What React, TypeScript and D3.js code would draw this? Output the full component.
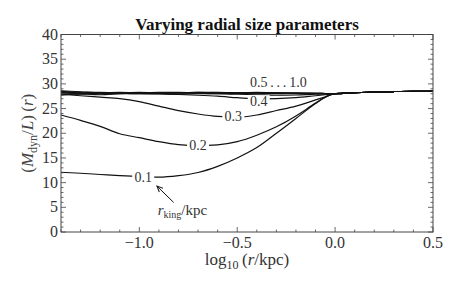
import React, { useRef, useEffect } from 'react';
import * as d3 from 'd3';

// log10(r/kpc) sample points
const xs = [-1.4, -1.3, -1.2, -1.1, -1.0, -0.9, -0.8, -0.7, -0.6, -0.5, -0.4, -0.3, -0.2, -0.1, -0.05, 0.0, 0.1, 0.2, 0.3, 0.4, 0.5];

// (M_dyn/L)(r) for each r_king
const m01 = [12.1, 11.9, 11.65, 11.4, 11.2, 11.1, 11.4, 12.05, 13.3, 15.0, 17.1, 20.0, 23.0, 26.0, 27.3, 28.0, 28.2, 28.35, 28.45, 28.5, 28.5];
const m02 = [23.7, 22.6, 21.4, 19.9, 19.1, 18.3, 17.7, 17.5, 17.65, 18.3, 19.6, 21.3, 23.5, 26.1, 27.3, 28.0, 28.2, 28.35, 28.45, 28.5, 28.5];
const m03 = [27.9, 27.6, 27.3, 27.0, 26.4, 25.5, 24.6, 23.9, 23.4, 23.25, 23.7, 24.6, 25.5, 26.75, 27.4, 28.0, 28.2, 28.35, 28.45, 28.5, 28.5];
const m04 = [28.2, 28.0, 28.0, 28.0, 28.0, 27.95, 27.85, 27.7, 27.5, 27.2, 26.95, 27.0, 27.2, 27.6, 27.8, 28.0, 28.2, 28.35, 28.45, 28.5, 28.5];
const m05 = [28.4, 28.1, 27.8, 28.0, 28.1, 28.0, 27.9, 28.0, 28.0, 27.9, 27.8, 27.7, 27.75, 27.9, 27.95, 28.0, 28.2, 28.35, 28.45, 28.5, 28.5];
const m06 = [27.7, 28.0, 28.2, 28.1, 28.0, 28.1, 28.2, 28.1, 28.0, 28.05, 28.1, 28.05, 28.0, 28.0, 28.0, 28.0, 28.2, 28.35, 28.45, 28.5, 28.5];
const m07 = [28.6, 28.4, 28.2, 28.3, 28.2, 28.1, 28.2, 28.3, 28.2, 28.1, 28.2, 28.2, 28.1, 28.1, 28.05, 28.0, 28.2, 28.35, 28.45, 28.5, 28.5];
const m08 = [28.0, 27.9, 28.1, 28.2, 28.3, 28.2, 28.1, 28.2, 28.3, 28.2, 28.1, 28.0, 28.1, 28.05, 28.0, 28.0, 28.2, 28.35, 28.45, 28.5, 28.5];
const m09 = [28.3, 28.2, 28.0, 28.1, 28.2, 28.3, 28.3, 28.2, 28.1, 28.2, 28.3, 28.2, 28.2, 28.1, 28.05, 28.0, 28.2, 28.35, 28.45, 28.5, 28.5];
const m10 = [28.5, 28.3, 28.3, 28.2, 28.1, 28.2, 28.2, 28.3, 28.25, 28.2, 28.2, 28.15, 28.1, 28.1, 28.05, 28.0, 28.2, 28.35, 28.45, 28.5, 28.5];

const series = [m01, m02, m03, m04, m05, m06, m07, m08, m09, m10];

// inline curve labels (text, x, y in data units)
const labelTexts = ['0.1', '0.2', '0.3', '0.4'];
const labelX = [-0.98, -0.70, -0.52, -0.39];
const labelY = [11.1, 17.5, 23.3, 26.5];

const xTicks = [-1.0, -0.5, 0.0, 0.5];
const yTicks = [0, 5, 10, 15, 20, 25, 30, 35, 40];

const FONT = "'Liberation Serif', 'DejaVu Serif', serif";

const App = () => {
  const ref = useRef<SVGSVGElement | null>(null);

  useEffect(() => {
    const width = 463;
    const height = 290;
    const m = { left: 61, right: 30, top: 34.5, bottom: 58 };
    const svg = d3.select(ref.current);
    svg.selectAll('*').remove();

    const x = d3.scaleLinear().domain([-1.4, 0.5]).range([m.left, width - m.right]);
    const y = d3.scaleLinear().domain([0, 40]).range([height - m.bottom, m.top]);
    const x0 = m.left, x1 = width - m.right, y0 = height - m.bottom, y1 = m.top;

    const line = d3.line<number>()
      .x((_, i) => x(xs[i]))
      .y(d => y(d))
      .curve(d3.curveMonotoneX);

    // curves
    svg.append('g')
      .selectAll('path')
      .data(series)
      .enter().append('path')
      .attr('d', d => line(d))
      .attr('fill', 'none')
      .attr('stroke', '#111')
      .attr('stroke-width', 1.2);

    // inline labels with white backing
    const lab = svg.append('g');
    labelTexts.forEach((t, i) => {
      const cx = x(labelX[i]);
      const cy = y(labelY[i]);
      lab.append('rect')
        .attr('x', cx - 11).attr('y', cy - 6)
        .attr('width', 22).attr('height', 12)
        .attr('fill', 'white');
      lab.append('text')
        .attr('x', cx).attr('y', cy + 4.5)
        .attr('text-anchor', 'middle')
        .style('font-family', FONT)
        .style('font-size', '14px')
        .attr('fill', '#333')
        .text(t);
    });
    svg.append('text')
      .attr('x', x(-0.29)).attr('y', y(29.4))
      .attr('text-anchor', 'middle')
      .style('font-family', FONT)
      .style('font-size', '14px')
      .attr('fill', '#333')
      .text('0.5\u2009.\u2009.\u2009.\u20091.0');

    // frame
    svg.append('rect')
      .attr('x', x0).attr('y', y1)
      .attr('width', x1 - x0).attr('height', y0 - y1)
      .attr('fill', 'none')
      .attr('stroke', '#444')
      .attr('stroke-width', 1);

    // ticks
    const tg = svg.append('g').attr('stroke', '#444').attr('stroke-width', 0.8);
    d3.range(-14, 6).map(v => v / 10).forEach(v => {
      const major = Math.abs(v * 2 - Math.round(v * 2)) < 1e-6;
      const len = major ? 5 : 2.5;
      tg.append('line').attr('x1', x(v)).attr('x2', x(v)).attr('y1', y0).attr('y2', y0 - len);
      tg.append('line').attr('x1', x(v)).attr('x2', x(v)).attr('y1', y1).attr('y2', y1 + len);
    });
    d3.range(0, 41).forEach(v => {
      const len = v % 5 === 0 ? 5 : 2.5;
      tg.append('line').attr('y1', y(v)).attr('y2', y(v)).attr('x1', x0).attr('x2', x0 + len);
      tg.append('line').attr('y1', y(v)).attr('y2', y(v)).attr('x1', x1).attr('x2', x1 - len);
    });

    // tick labels
    svg.append('g').selectAll('text')
      .data(xTicks).enter().append('text')
      .attr('x', d => x(d)).attr('y', y0 + 16)
      .attr('text-anchor', 'middle')
      .style('font-family', FONT).style('font-size', '16px').attr('fill', '#333')
      .text(d => d3.format('.1f')(d).replace('-', '\u2212\u200a'));
    svg.append('g').selectAll('text')
      .data(yTicks).enter().append('text')
      .attr('x', x0 - 3).attr('y', d => y(d) + 5)
      .attr('text-anchor', 'end')
      .style('font-family', FONT).style('font-size', '16px').attr('fill', '#333')
      .text(d => d);

    // title
    svg.append('text')
      .attr('x', (x0 + x1) / 2).attr('y', 29.5)
      .attr('text-anchor', 'middle')
      .style('font-family', FONT).style('font-size', '17px').style('font-weight', 'bold')
      .attr('fill', '#111')
      .text('Varying radial size parameters');

    // x label
    const xl = svg.append('text')
      .attr('x', (x0 + x1) / 2).attr('y', 265)
      .attr('text-anchor', 'middle')
      .style('font-family', FONT).style('font-size', '17px').attr('fill', '#333');
    xl.append('tspan').text('log');
    xl.append('tspan').style('font-size', '12px').attr('dy', 4).text('10');
    xl.append('tspan').attr('dy', -4).text('\u2009(');
    xl.append('tspan').style('font-style', 'italic').text('r');
    xl.append('tspan').text('/kpc)');

    // y label
    const yl = svg.append('text')
      .attr('transform', `translate(33, ${(y0 + y1) / 2}) rotate(-90)`)
      .attr('text-anchor', 'middle')
      .style('font-family', FONT).style('font-size', '17px').attr('fill', '#444');
    yl.append('tspan').text('(');
    yl.append('tspan').style('font-style', 'italic').text('M');
    yl.append('tspan').style('font-size', '12px').attr('dy', 4).text('dyn');
    yl.append('tspan').attr('dy', -4).text('/');
    yl.append('tspan').style('font-style', 'italic').text('L');
    yl.append('tspan').text(')\u2009(');
    yl.append('tspan').style('font-style', 'italic').text('r');
    yl.append('tspan').text(')');

    // annotation
    const an = svg.append('text')
      .attr('x', x(-0.78)).attr('y', 215)
      .attr('text-anchor', 'middle')
      .style('font-family', FONT).style('font-size', '15px').attr('fill', '#333');
    an.append('tspan').style('font-style', 'italic').text('r');
    an.append('tspan').style('font-size', '10px').attr('dy', 3).text('king');
    an.append('tspan').attr('dy', -3).text('/kpc');

    svg.append('defs').append('marker')
      .attr('id', 'ah').attr('viewBox', '0 0 10 10')
      .attr('refX', 9).attr('refY', 5)
      .attr('markerWidth', 7).attr('markerHeight', 7)
      .attr('orient', 'auto')
      .append('path').attr('d', 'M0,1 L9,5 L0,9').attr('fill', 'none').attr('stroke', '#111').attr('stroke-width', 1.4);
    svg.append('line')
      .attr('x1', x(-0.825)).attr('y1', y(6.0))
      .attr('x2', x(-0.91)).attr('y2', y(9.3))
      .attr('stroke', '#111').attr('stroke-width', 1)
      .attr('marker-end', 'url(#ah)');
  }, []);

  return <svg ref={ref} width={463} height={290} style={{ display: 'block', position: 'absolute', left: 0, top: 0 }} />;
};

export default App;
